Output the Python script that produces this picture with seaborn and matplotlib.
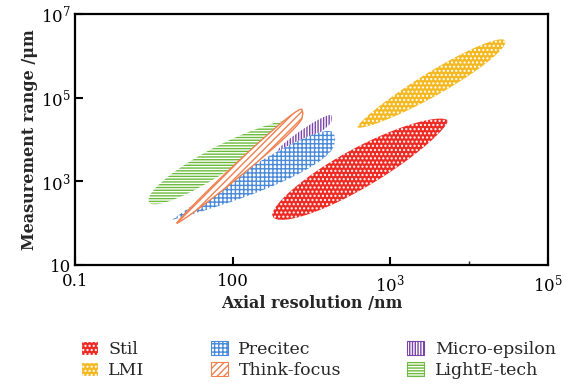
import numpy as np
import matplotlib
matplotlib.use("Agg")
import matplotlib.pyplot as plt
from matplotlib.patches import Patch
import seaborn as sns

# -------------------- Data -------------------- #
# each product region is a lens between two end points (nm, um) on log axes
products = ["Stil", "LMI", "Precitec", "Think-focus", "Micro-epsilon", "LightE-tech"]
x_start = [10**1.50, 10**2.58, 10**0.23, 10**0.29, 10**1.56, 10**-0.07]
y_start = [10**2.20, 10**4.30, 10**2.08, 10**2.00, 10**3.70, 10**2.55]
x_end = [10**3.73, 10**4.46, 10**2.30, 10**1.89, 10**2.26, 10**1.75]
y_end = [10**4.44, 10**6.33, 10**4.01, 10**4.63, 10**4.51, 10**4.47]
half_width = [0.54, 0.33, 0.40, 0.22, 0.17, 0.38]   # vertical half-thickness, decades
shape_a = [0.55, 0.65, 1.0, 0.7, 0.5, 0.5]
shape_b = [0.65, 0.5, 0.35, 0.25, 0.3, 0.8]

x_ticks = [0.1, 10, 1e3, 1e5]
x_ticklabels = ["0.1", "100", "$10^3$", "$10^5$"]
y_ticks = [10, 1e3, 1e5, 1e7]
y_ticklabels = ["10", "$10^3$", "$10^5$", "$10^7$"]

# style: face, hatch colour, hatch
styles = {
    "Stil": ("#ee2a24", "white", "...."),
    "LMI": ("#f4b820", "white", "...."),
    "Precitec": ("white", "#4a8ad8", "++++"),
    "Think-focus": ("white", "#f08050", "/////"),
    "Micro-epsilon": ("white", "#7a45a8", "||||||"),
    "LightE-tech": ("white", "#6cbb3c", "------"),
}
draw_order = ["LightE-tech", "Micro-epsilon", "Precitec", "Think-focus", "Stil", "LMI"]


def lens(i, n=120):
    t = np.linspace(0, 1, n)
    lx = np.log10(x_start[i]) + t * (np.log10(x_end[i]) - np.log10(x_start[i]))
    ly = np.log10(y_start[i]) + t * (np.log10(y_end[i]) - np.log10(y_start[i]))
    a, b = shape_a[i], shape_b[i]
    tm = a / (a + b)
    w = half_width[i] * (t**a * (1 - t)**b) / (tm**a * (1 - tm)**b)
    xs = np.concatenate([lx, lx[::-1]])
    ys = np.concatenate([ly + w, (ly - w)[::-1]])
    return 10**xs, 10**ys


# -------------------- Plot -------------------- #
sns.set_theme(style="ticks")
plt.rcParams["font.family"] = ["DejaVu Serif"]
plt.rcParams["mathtext.fontset"] = "dejavuserif"
plt.rcParams["hatch.linewidth"] = 1.0

fig = plt.figure(figsize=(5.68, 3.87), dpi=100)
ax = fig.add_axes([0.132, 0.315, 0.833, 0.649])

for name in draw_order:
    i = products.index(name)
    face, hc, hatch = styles[name]
    xs, ys = lens(i)
    lw = 1.0 if name == "Think-focus" else 0
    ax.fill(xs, ys, facecolor=face, edgecolor=hc, hatch=hatch, linewidth=lw)

ax.set_xscale("log")
ax.set_yscale("log")
ax.set_xlim(0.1, 1e5)
ax.set_ylim(10, 1e7)
ax.set_xticks(x_ticks)
ax.set_xticklabels(x_ticklabels)
ax.set_yticks(y_ticks)
ax.set_yticklabels(y_ticklabels)
ax.xaxis.set_minor_locator(matplotlib.ticker.FixedLocator([1e4]))
ax.xaxis.set_minor_formatter(matplotlib.ticker.NullFormatter())
ax.yaxis.set_minor_locator(matplotlib.ticker.NullLocator())
ax.tick_params(which="major", direction="in", length=6, width=1.5, labelsize=12, colors="black")
ax.tick_params(axis="y", which="major", pad=3)
ax.tick_params(axis="x", which="major", pad=6)
ax.tick_params(which="minor", direction="in", length=3, width=1.0)
for sp in ax.spines.values():
    sp.set_linewidth(1.6)
    sp.set_color("black")

ax.set_xlabel("Axial resolution /nm", fontsize=11.5, fontweight="bold", labelpad=0)
ax.set_ylabel("Measurement range /μm", fontsize=11.5, fontweight="bold", labelpad=2)

handles = []
for name in products:
    face, hc, hatch = styles[name]
    handles.append(Patch(facecolor=face, edgecolor=hc, hatch=hatch, linewidth=0.8, label=name))
fig.legend(handles=handles, ncol=3, loc="center", bbox_to_anchor=(0.56, 0.07),
           frameon=False, fontsize=12.5, handlelength=1.0, handleheight=0.9,
           columnspacing=3.8, labelspacing=0.2, handletextpad=0.6)

fig.savefig("out.png", dpi=100)
